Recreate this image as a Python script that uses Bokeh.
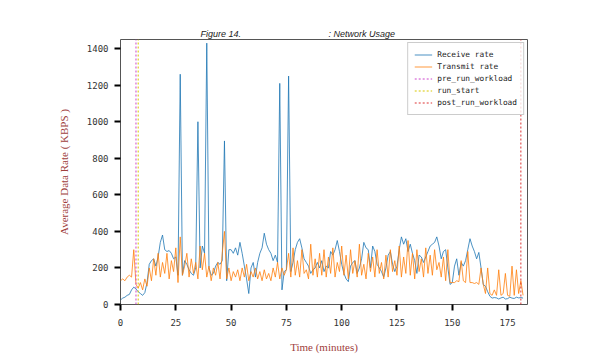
from bokeh.plotting import figure
from bokeh.models import Range1d, SingleIntervalTicker, Legend
from bokeh.embed import file_html
from bokeh.resources import INLINE

minutes = list(range(0, 183))
receive = [25, 35, 40, 50, 55, 80, 95, 85, 70, 60,
           50, 65, 120, 220, 240, 250, 210, 260, 340, 380,
           300, 290, 295, 280, 250, 260, 160, 1260, 160, 240,
           220, 190, 170, 160, 200, 1000, 200, 320, 280, 1430,
           200, 160, 170, 210, 230, 220, 240, 895, 130, 300,
           300, 280, 310, 270, 340, 280, 210, 140, 60, 200,
           230, 150, 230, 280, 310, 390, 330, 300, 280, 240,
           270, 230, 1210, 80, 180, 190, 1250, 180, 230, 300,
           340, 360, 310, 250, 230, 210, 170, 190, 200, 230,
           200, 240, 180, 210, 200, 290, 270, 300, 350, 290,
           220, 170, 140, 125, 210, 230, 240, 170, 200, 250,
           340, 310, 300, 200, 320, 290, 220, 200, 180, 150,
           200, 270, 290, 220, 180, 210, 300, 370, 330, 360,
           290, 330, 280, 240, 170, 270, 260, 230, 260, 290,
           320, 330, 340, 370, 320, 250, 290, 300, 200, 110,
           120, 210, 250, 160, 230, 210, 240, 300, 360, 320,
           290, 250, 285, 200, 110, 100, 70, 45, 35, 38,
           36, 30, 36, 40, 30, 32, 40, 35, 33, 40,
           36, 38, 35]
transmit = [130, 140, 130, 150, 160, 150, 300, 110, 90, 120,
            80, 140, 100, 200, 130, 250, 160, 280, 150, 230,
            170, 280, 140, 240, 180, 310, 120, 370, 160, 210,
            280, 150, 250, 170, 230, 140, 320, 190, 280, 150,
            210, 130, 200, 160, 230, 140, 280, 400, 140, 200,
            130, 180, 150, 190, 130, 200, 150, 220, 130, 180,
            150, 200, 140, 180, 130, 190, 140, 170, 130, 200,
            150, 230, 140, 200, 160, 190, 280, 150, 310, 160,
            240, 150, 300, 170, 190, 140, 330, 160, 250, 150,
            280, 160, 300, 150, 260, 170, 310, 150, 230, 180,
            320, 160, 270, 140, 300, 170, 240, 150, 330, 160,
            220, 140, 280, 180, 260, 150, 300, 170, 230, 140,
            270, 150, 300, 180, 240, 160, 320, 150, 260, 170,
            350, 160, 280, 140, 300, 180, 250, 150, 310, 170,
            270, 160, 300, 190, 230, 150, 260, 130, 300, 120,
            120, 120, 130, 125, 240, 130, 120, 290, 120, 120,
            115, 120, 110, 200, 110, 60, 200, 60, 50, 80,
            50, 190, 50, 60, 170, 50, 45, 210, 50, 190,
            60, 130, 50]
pre_run_workload = [7]
run_start = [8]
post_run_workload = [181]

X_MAX = 184
Y_MAX = 1450
label_color = "#a0403c"

p = figure(width=592, height=355, output_backend="svg", toolbar_location=None,
           x_range=Range1d(0, X_MAX), y_range=Range1d(0, Y_MAX),
           min_border_left=120, min_border_right=65, min_border_top=39,
           min_border_bottom=49)

p.title.text = "Figure 14." + "\u00a0" * 35 + ": Network Usage"
p.title.align = "left"
p.title.offset = 80
p.title.text_font = "Liberation Sans"
p.title.text_font_style = "italic"
p.title.text_font_size = "9px"
p.title.text_color = "#222222"
p.title.standoff = 2

p.grid.visible = False
p.outline_line_color = "#555555"
p.outline_line_width = 1

l1 = p.line(minutes, receive, line_color="#1f77b4", line_width=1, line_alpha=0.8)
l2 = p.line(minutes, transmit, line_color="#ff7f0e", line_width=1, line_alpha=0.8)
s1 = p.segment(x0=pre_run_workload, y0=[0], x1=pre_run_workload, y1=[Y_MAX],
               line_color="#cc44cc", line_dash="2 2", line_width=1)
s2 = p.segment(x0=run_start, y0=[0], x1=run_start, y1=[Y_MAX],
               line_color="#d8c800", line_dash="2 2", line_width=1)
s3 = p.segment(x0=post_run_workload, y0=[0], x1=post_run_workload, y1=[Y_MAX],
               line_color="#dd3333", line_dash="2 2", line_width=1)

legend = Legend(items=[("Receive rate", [l1]), ("Transmit rate", [l2]),
                       ("pre_run_workload", [s1]), ("run_start", [s2]),
                       ("post_run_workload", [s3])],
                location="top_right")
legend.label_text_font = "DejaVu Sans Mono"
legend.label_text_font_size = "7.8px"
legend.label_text_color = "#222222"
legend.label_height = 11
legend.glyph_height = 11
legend.glyph_width = 18
legend.label_standoff = 5
legend.spacing = 1
legend.padding = 6
legend.margin = 3
legend.border_line_color = "#cccccc"
legend.border_line_alpha = 1
legend.background_fill_alpha = 0.8
p.add_layout(legend)

p.xaxis.ticker = SingleIntervalTicker(interval=25)
p.yaxis.ticker = SingleIntervalTicker(interval=200)
for ax in (p.xaxis[0], p.yaxis[0]):
    ax.axis_line_color = None
    ax.major_tick_line_color = "black"
    ax.major_tick_line_width = 2
    ax.major_tick_out = 6
    ax.major_tick_in = 0
    ax.minor_tick_line_color = None
    ax.major_label_text_font = "DejaVu Sans Mono"
    ax.major_label_text_font_size = "9px"
    ax.major_label_text_color = "#333333"
    ax.axis_label_text_font = "Liberation Serif"
    ax.axis_label_text_font_style = "normal"
    ax.axis_label_text_font_size = "11px"
    ax.axis_label_text_color = label_color

p.xaxis.axis_label = "Time (minutes)"
p.yaxis.axis_label = "Average Data Rate ( KBPS )"
p.xaxis.major_label_standoff = 8
p.yaxis.major_label_standoff = 6
p.xaxis.axis_label_standoff = 12
p.yaxis.axis_label_standoff = 14

open("out.html", "w").write(file_html(p, INLINE))
